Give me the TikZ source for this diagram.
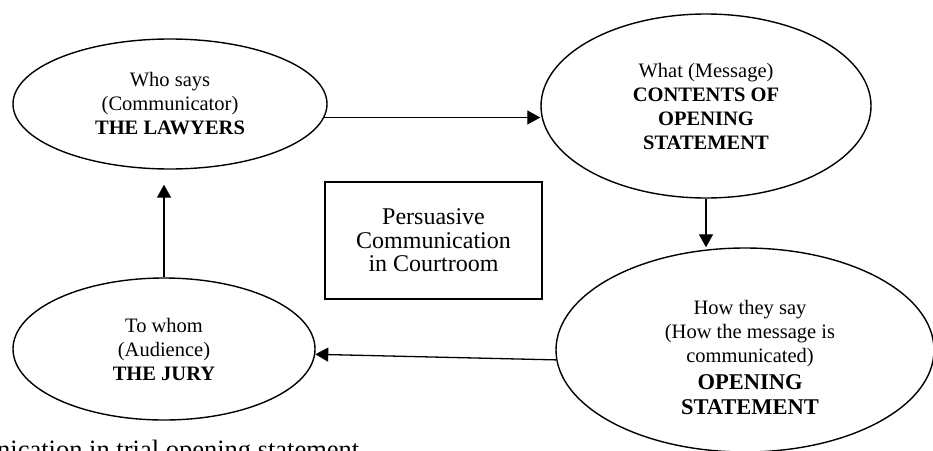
\documentclass[tikz,border=0pt]{standalone}
\usepackage{fontspec}
\setmainfont{Liberation Serif}
\usetikzlibrary{shapes.geometric,arrows.meta}

\begin{document}
\begin{tikzpicture}[x=1pt, y=-1pt, >={Triangle[length=13pt,width=14pt]},
    bubble/.style={ellipse, draw, line width=1.4pt, inner sep=0pt, align=center,
      font=\fontsize{20.5}{24}\selectfont},
    flow/.style={->, line width=1.3pt}]
    \useasboundingbox (0,0) rectangle (933,450);
    \clip (0,0) rectangle (933,450);

    % the four stages
    \node[bubble, minimum width=314, minimum height=130] (who) at (170,104)
      {Who says\\(Communicator)\\\textbf{THE LAWYERS}};
    \node[bubble, minimum width=330, minimum height=184] (what) at (706,106)
      {What (Message)\\\textbf{CONTENTS OF}\\\textbf{OPENING}\\\textbf{STATEMENT}};
    \node[bubble, minimum width=378, minimum height=204] (how) at (745,350) {};
    \node[align=center, inner sep=0pt, font=\fontsize{20.5}{24}\selectfont] (howtext) at (750,357)
      {How they say\\(How the message is\\communicated)\\[3pt]
       {\fontsize{22.5}{26}\selectfont\bfseries OPENING}\\[1pt]
       {\fontsize{22.5}{26}\selectfont\bfseries STATEMENT}};
    \node[bubble, minimum width=302, minimum height=142] (whom) at (164,349)
      {To whom\\(Audience)\\\textbf{THE JURY}};

    % centre box
    \node[draw, line width=1.3pt, minimum width=217, minimum height=117, align=center,
      font=\fontsize{24}{23.5}\selectfont] (box) at (433.5,240.5)
      {Persuasive\\Communication\\in Courtroom};

    % arrows round the cycle
    \draw[flow] (who.-5) -- (who.-5 -| what.west);
    \draw[flow] (what.south) -- (what.south |- how.north);
    \draw[flow] (how.183) -- (whom.-2);
    \draw[flow, shorten >=15pt] (whom.north) -- (whom.north |- who.south);

    % caption, cut at the lower edge
    \node[anchor=base west, inner sep=0pt, font=\fontsize{26.5}{30}\selectfont] (cap) at (-3,458)
      {nication in trial opening statement};
  \end{tikzpicture}
\end{document}
